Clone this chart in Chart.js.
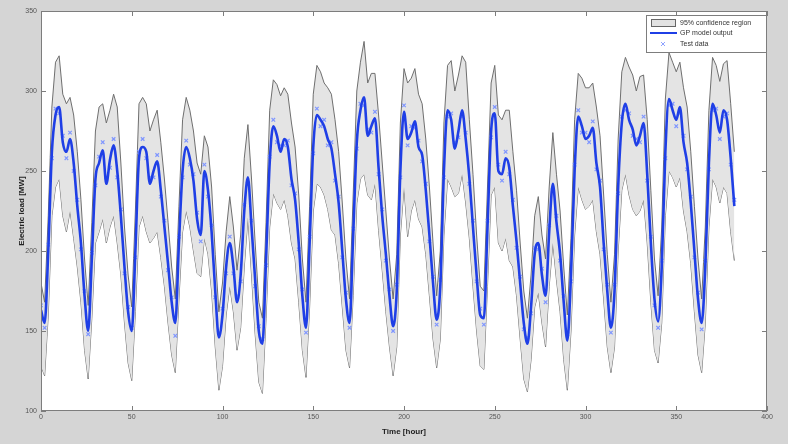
<!DOCTYPE html>
<html lang="en">
<head>
<meta charset="UTF-8">
<title>GP model output</title>
<script src="https://cdn.jsdelivr.net/npm/chart.js@4.4.0/dist/chart.umd.min.js"></script>
<style>
  body { margin: 0; background: #d5d5d5; }
  canvas { display: block; }
</style>
</head>
<body>
<canvas id="myChart" width="788" height="444"></canvas>
<script>
// values read every 2 hours, from hour 0 to hour 382
const gpOutput = [
  163,155,200,262,285,290,268,262,270,255,228,205,172,
  150,195,245,255,263,242,257,266,250,222,190,162,
  150,200,258,265,262,242,250,256,238,215,192,168,
  155,205,250,265,258,244,220,210,250,238,212,175,
  146,160,190,205,190,168,185,225,246,215,182,150,
  142,195,255,278,272,262,270,265,245,232,205,172,
  152,205,265,285,282,278,270,264,248,230,200,170,
  155,210,268,288,296,272,278,283,252,222,198,172,
  153,175,250,287,270,274,281,265,260,238,210,180,
  157,178,250,288,282,264,275,288,270,246,215,185,
  160,158,215,275,286,250,248,258,252,228,206,180,
  155,142,165,198,205,185,172,212,242,218,198,168,
  144,185,250,284,278,270,272,277,255,240,205,175,
  152,175,240,280,292,282,276,266,272,280,248,205,
  170,156,190,262,295,288,282,290,268,255,230,200,
  170,155,190,255,292,285,274,288,282,258,228
];
const upper95 = [
  180,168,222,290,318,322,298,292,296,285,262,232,195,
  166,218,275,290,292,280,288,298,290,255,215,185,
  165,225,292,296,292,275,282,288,268,245,218,190,
  170,228,282,296,288,275,255,248,272,265,240,198,
  162,180,212,234,215,188,210,258,279,245,205,168,
  158,218,288,307,304,297,302,298,280,265,235,195,
  168,228,298,316,312,305,302,298,282,262,230,195,
  170,235,300,318,331,305,311,311,285,255,225,195,
  170,198,280,314,305,308,314,298,292,270,240,205,
  172,200,280,316,319,300,310,322,318,282,248,210,
  178,175,240,305,316,285,282,288,288,262,238,205,
  175,158,185,222,234,210,195,240,274,248,225,190,
  160,208,282,311,308,302,302,305,290,272,235,198,
  168,198,270,312,321,315,310,300,309,310,282,238,
  195,172,215,295,324,318,312,318,302,290,262,228,
  195,170,215,288,321,316,306,317,319,292,262
];
const lower95 = [
  128,122,160,222,240,245,222,212,225,208,190,168,138,
  120,158,205,212,220,205,215,222,205,185,155,130,
  119,162,215,222,212,205,208,212,196,178,155,135,
  124,170,212,225,215,200,186,184,208,198,175,140,
  113,128,160,178,162,138,152,190,221,185,148,118,
  111,158,215,236,230,226,232,222,205,195,168,138,
  121,165,225,242,240,235,226,213,210,192,165,138,
  127,172,230,245,248,235,232,242,213,188,162,140,
  122,140,210,240,209,225,232,220,215,198,172,145,
  127,145,210,245,240,234,236,248,230,208,178,150,
  128,126,178,235,240,205,200,208,194,190,172,145,
  120,112,132,165,174,155,140,178,205,182,162,132,
  113,150,210,240,232,226,228,232,212,198,170,140,
  124,140,200,238,248,235,226,222,225,232,205,168,
  138,130,155,222,250,246,240,246,225,212,192,162,
  135,124,155,215,245,240,230,240,236,212,194
];
const testData = [
  166,152,204,258,289,286,272,258,274,250,232,201,175,
  148,199,241,259,268,246,252,270,246,226,186,165,
  152,196,262,270,258,246,246,260,234,219,188,171,
  147,209,246,269,254,248,224,206,254,234,216,171,
  149,164,186,209,186,172,181,229,242,219,178,153,
  145,191,259,282,268,266,266,269,241,236,201,176,
  149,209,261,289,278,282,266,268,244,234,196,174,
  152,214,264,292,291,276,274,287,248,226,194,176,
  150,179,246,291,266,278,277,269,256,242,206,184,
  154,182,246,284,286,268,271,284,274,242,219,181,
  164,154,219,271,290,254,244,262,248,232,202,184,
  151,146,161,202,201,189,168,216,238,222,194,172,
  148,181,254,288,274,274,268,281,251,244,201,179,
  149,179,236,284,288,286,272,270,268,284,244,209,
  166,152,194,258,291,292,278,286,272,251,234,196,
  174,151,194,251,288,289,270,284,286,254,232
];
const hours = gpOutput.map((v, i) => i * 2);
const xTicks = [0, 50, 100, 150, 200, 250, 300, 350, 400];
const yTicks = [100, 150, 200, 250, 300, 350];

const pts = arr => arr.map((v, i) => ({ x: hours[i], y: v }));

// white plot area on the grey figure
const background = {
  id: 'background',
  beforeDraw(chart) {
    const { ctx, chartArea: a } = chart;
    ctx.save();
    ctx.fillStyle = '#d5d5d5';
    ctx.fillRect(0, 0, chart.width, chart.height);
    ctx.fillStyle = '#ffffff';
    ctx.fillRect(a.left, a.top, a.right - a.left, a.bottom - a.top);
    ctx.restore();
  }
};

// box + inward tick marks, matlab style, and the legend
const frame = {
  id: 'frame',
  afterDraw(chart) {
    const { ctx, chartArea: a, scales } = chart;
    ctx.save();
    ctx.strokeStyle = '#7d7d7d';
    ctx.lineWidth = 1;
    ctx.strokeRect(a.left + 0.5, a.top + 0.5, a.right - a.left - 1, a.bottom - a.top - 1);
    ctx.beginPath();
    xTicks.forEach(v => {
      const x = Math.round(scales.x.getPixelForValue(v)) + 0.5;
      ctx.moveTo(x, a.bottom); ctx.lineTo(x, a.bottom - 5);
      ctx.moveTo(x, a.top); ctx.lineTo(x, a.top + 5);
    });
    yTicks.forEach(v => {
      const y = Math.round(scales.y.getPixelForValue(v)) + 0.5;
      ctx.moveTo(a.left, y); ctx.lineTo(a.left + 5, y);
      ctx.moveTo(a.right, y); ctx.lineTo(a.right - 5, y);
    });
    ctx.stroke();

    const lx = 646, ly = 15, lw = 120, lh = 37;
    ctx.fillStyle = '#ffffff';
    ctx.fillRect(lx, ly, lw, lh);
    ctx.strokeStyle = '#7d7d7d';
    ctx.strokeRect(lx + 0.5, ly + 0.5, lw, lh);
    ctx.font = '7px "Liberation Sans", Arial, sans-serif';
    ctx.textBaseline = 'middle';
    ctx.textAlign = 'left';
    const ds = chart.data.datasets;
    ctx.fillStyle = '#e2e2e2';
    ctx.fillRect(651, 19, 24, 7);
    ctx.strokeStyle = '#666';
    ctx.strokeRect(651.5, 19.5, 24, 7);
    ctx.fillStyle = '#333';
    ctx.fillText(ds[0].label, 680, 23);
    ctx.strokeStyle = '#1f3fe6';
    ctx.lineWidth = 2;
    ctx.beginPath(); ctx.moveTo(650, 33); ctx.lineTo(677, 33); ctx.stroke();
    ctx.fillText(ds[2].label, 680, 33.5);
    ctx.strokeStyle = '#8fa3ff';
    ctx.lineWidth = 1;
    ctx.beginPath();
    ctx.moveTo(661, 42); ctx.lineTo(665, 46);
    ctx.moveTo(665, 42); ctx.lineTo(661, 46);
    ctx.stroke();
    ctx.fillText(ds[3].label, 680, 44);
    ctx.restore();
  }
};

const ctx = document.getElementById('myChart').getContext('2d');
const myChart = new Chart(ctx, {
  type: 'line',
  data: {
    datasets: [
      {
        label: '95% confidence region',
        data: pts(upper95),
        borderColor: '#6f6f6f',
        borderWidth: 1,
        backgroundColor: '#e4e4e4',
        fill: '+1',
        pointRadius: 0,
        order: 3
      },
      {
        label: 'lower',
        data: pts(lower95),
        borderColor: '#6f6f6f',
        borderWidth: 1,
        fill: false,
        pointRadius: 0,
        order: 3
      },
      {
        label: 'GP model output',
        data: pts(gpOutput),
        borderColor: '#1f3fe6',
        borderWidth: 2.6,
        fill: false,
        pointRadius: 0,
        cubicInterpolationMode: 'monotone',
        order: 1
      },
      {
        label: 'Test data',
        data: pts(testData),
        showLine: false,
        pointStyle: 'crossRot',
        pointRadius: 2.5,
        borderColor: '#7f96ff',
        borderWidth: 1.2,
        order: 2
      }
    ]
  },
  options: {
    responsive: false,
    animation: false,
    layout: { padding: { top: 11, right: 21, left: 0, bottom: 0 } },
    plugins: { legend: { display: false }, tooltip: { enabled: false } },
    scales: {
      x: {
        type: 'linear',
        min: 0,
        max: 400,
        afterBuildTicks: s => { s.ticks = xTicks.map(v => ({ value: v })); },
        afterFit: s => { s.height = 33; },
        grid: { display: false, drawTicks: false },
        border: { display: false },
        ticks: { color: '#555', font: { size: 7, family: '"Liberation Sans", Arial, sans-serif' }, padding: 2, maxRotation: 0 },
        title: { display: true, text: 'Time [hour]', color: '#222', font: { size: 8, weight: 'bold', family: '"Liberation Sans", Arial, sans-serif' }, padding: { top: 0, bottom: 7 } }
      },
      y: {
        min: 100,
        max: 350,
        afterBuildTicks: s => { s.ticks = yTicks.map(v => ({ value: v })); },
        afterFit: s => { s.width = 41; },
        grid: { display: false, drawTicks: false },
        border: { display: false },
        ticks: { color: '#555', font: { size: 7, family: '"Liberation Sans", Arial, sans-serif' }, padding: 4 },
        title: { display: true, text: 'Electric load [MW]', color: '#222', font: { size: 8, weight: 'bold', family: '"Liberation Sans", Arial, sans-serif' }, padding: { top: 17, bottom: 0 } }
      }
    }
  },
  plugins: [background, frame]
});
</script>
</body>
</html>
